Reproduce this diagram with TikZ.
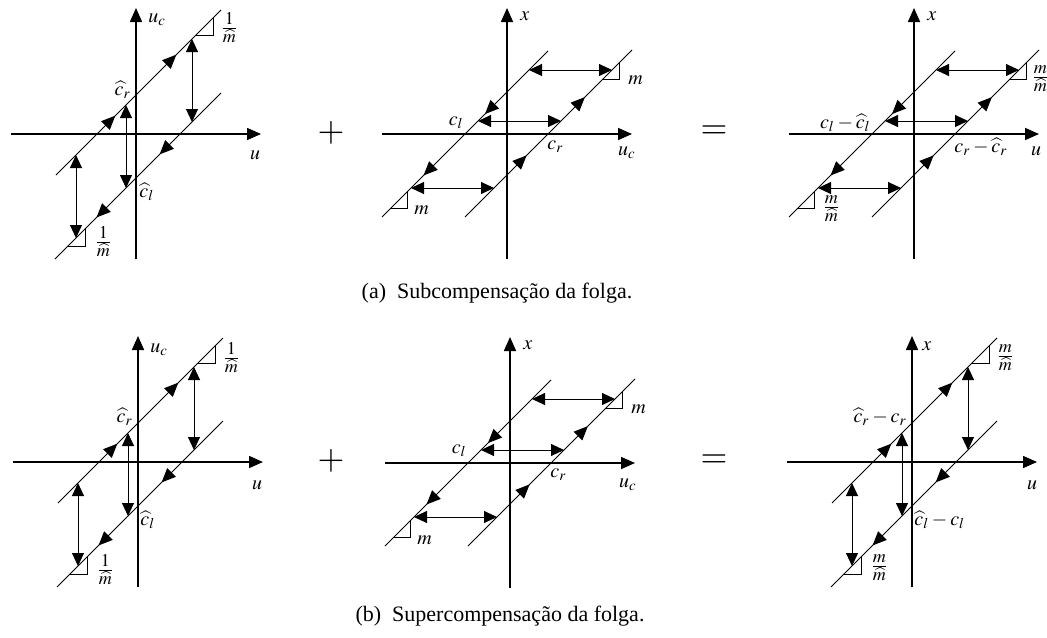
\documentclass[tikz,border=0pt]{standalone}
\usepackage{mathptmx}
\usepackage{fontspec}
\setmainfont{Liberation Serif}
\usetikzlibrary{arrows.meta,decorations.markings}
\tikzset{
  axis/.style={line width=0.8pt,-{Triangle[length=7pt,width=6pt]}},
  branch/.style={line width=0.5pt},
  dbl/.style={line width=0.5pt,{Triangle[length=6.5pt,width=6pt]}-{Triangle[length=6.5pt,width=6pt]}},
  slope/.style={line width=0.45pt},
  mk/.style={postaction={decorate,decoration={markings,mark=at position #1 with {\arrow{Triangle[length=7pt,width=6pt]}}}}},
  lbl/.style={inner sep=0pt,font=\normalsize},
  frc/.style={inner sep=0pt,font=\large},
  op/.style={inner sep=0pt,font=\LARGE},
  captxt/.style={anchor=base,inner sep=0pt,font=\fontsize{11}{13}\selectfont}
}
\newcommand\drawLeftHyst[1]{%
  \coordinate (#1o) at (0,0);
  \coordinate (#1hl) at (-125,0); \coordinate (#1hr) at (125,0);
  \coordinate (#1vb) at (0,125); \coordinate (#1vt) at (0,-126);
  \draw[axis] (#1hl) -- (#1hr);
  \draw[axis] (#1vb) -- (#1vt);
  \coordinate (#1u1) at (-80,41); \coordinate (#1u2) at (85,-124);
  \coordinate (#1l1) at (-81,125); \coordinate (#1l2) at (85,-41);
  \draw[branch,mk=0.36,mk=0.73] (#1u1) -- (#1u2);
  \draw[branch,mk=0.37,mk=0.75] (#1l2) -- (#1l1);
  \coordinate (#1ta) at (56,-95); \coordinate (#1ba) at (56,-12);
  \coordinate (#1tb) at (-10,-29); \coordinate (#1bb) at (-10,54);
  \coordinate (#1tc) at (-60,21); \coordinate (#1bc) at (-60,104);
  \draw[dbl] (#1ta) -- (#1ba);
  \draw[dbl] (#1tb) -- (#1bb);
  \draw[dbl] (#1tc) -- (#1bc);
  \coordinate (#1p1) at (60,-99); \coordinate (#1c1) at (77,-99); \coordinate (#1q1) at (77,-116);
  \draw[slope] (#1p1) -- (#1c1) -- (#1q1);
  \coordinate (#1p2) at (-68,112); \coordinate (#1c2) at (-51,112); \coordinate (#1q2) at (-51,95);
  \draw[slope] (#1p2) -- (#1c2) -- (#1q2);
}
\newcommand\drawRightHyst[1]{%
  \coordinate (#1o) at (0,0);
  \coordinate (#1hl) at (-125,0); \coordinate (#1hr) at (125,0);
  \coordinate (#1vb) at (0,125); \coordinate (#1vt) at (0,-126);
  \draw[axis] (#1hl) -- (#1hr);
  \draw[axis] (#1vb) -- (#1vt);
  \coordinate (#1a1) at (41,-83); \coordinate (#1a2) at (-125,83);
  \coordinate (#1b1) at (-42,83); \coordinate (#1b2) at (125,-84);
  \draw[branch,mk=0.38,mk=0.75] (#1a1) -- (#1a2);
  \draw[branch,mk=0.37,mk=0.72] (#1b1) -- (#1b2);
  \coordinate (#1la) at (22,-64); \coordinate (#1ra) at (105,-64);
  \coordinate (#1lb) at (-29,-13); \coordinate (#1rb) at (54,-13);
  \coordinate (#1lc) at (-96,54); \coordinate (#1rc) at (-13,54);
  \draw[dbl] (#1la) -- (#1ra);
  \draw[dbl] (#1lb) -- (#1rb);
  \draw[dbl] (#1lc) -- (#1rc);
  \coordinate (#1p1) at (96,-55); \coordinate (#1c1) at (112,-55); \coordinate (#1q1) at (112,-71);
  \draw[slope] (#1p1) -- (#1c1) -- (#1q1);
  \coordinate (#1p2) at (-116,74); \coordinate (#1c2) at (-100,74); \coordinate (#1q2) at (-100,58);
  \draw[slope] (#1p2) -- (#1c2) -- (#1q2);
}
\begin{document}
\begin{tikzpicture}[x=0.5pt,y=-0.5pt]
\path[use as bounding box] (0,0) rectangle (1047,637);
% ---------- row (a) ----------
\begin{scope}[shift={(136,134)}]
  \drawLeftHyst{TL}
  \node[lbl,anchor=west] (TLy) at (12,-114) {$u_c$};
  \node[lbl] (TLx) at (119,21) {$u$};
  \node[lbl,anchor=east] (TLcr) at (-5,-44) {$\widehat{c}_r$};
  \node[lbl,anchor=west] (TLcl) at (3,58) {$\widehat{c}_l$};
  \node[frc,anchor=west] (TLs1) at (84,-106) {$\frac{1}{\widehat{m}}$};
  \node[frc,anchor=west] (TLs2) at (-42,108) {$\frac{1}{\widehat{m}}$};
\end{scope}
\node[op] (plusA) at (331,133) {$+$};
\begin{scope}[shift={(507,134)}]
  \drawRightHyst{TM}
  \node[lbl,anchor=west] (TMy) at (13,-118) {$x$};
  \node[lbl] (TMx) at (120,19) {$u_c$};
  \node[lbl,anchor=east] (TMcl) at (-43,-11) {$c_l$};
  \node[lbl,anchor=west] (TMcr) at (40,13) {$c_r$};
  \node[lbl,anchor=west] (TMs1) at (121,-54) {$m$};
  \node[lbl,anchor=west] (TMs2) at (-93,76) {$m$};
\end{scope}
\node[op] (eqA) at (714,132) {$=$};
\begin{scope}[shift={(914,134)}]
  \drawRightHyst{TR}
  \node[lbl,anchor=west] (TRy) at (13,-118) {$x$};
  \node[lbl] (TRx) at (122,17) {$u$};
  \node[lbl,anchor=east] (TRcl) at (-43,-11) {$c_l-\widehat{c}_l$};
  \node[lbl,anchor=west] (TRcr) at (40,13) {$c_r-\widehat{c}_r$};
  \node[frc,anchor=west] (TRs1) at (117,-55) {$\frac{m}{\widehat{m}}$};
  \node[frc,anchor=west] (TRs2) at (-92,75) {$\frac{m}{\widehat{m}}$};
\end{scope}
\node[captxt] (capA) at (497,298) {(a)\ \ Subcompensação da folga.};
% ---------- row (b) ----------
\begin{scope}[shift={(138,462)}]
  \drawLeftHyst{BL}
  \node[lbl,anchor=west] (BLy) at (12,-112) {$u_c$};
  \node[lbl] (BLx) at (119,23) {$u$};
  \node[lbl,anchor=east] (BLcr) at (-5,-45) {$\widehat{c}_r$};
  \node[lbl,anchor=west] (BLcl) at (2,58) {$\widehat{c}_l$};
  \node[frc,anchor=west] (BLs1) at (84,-104) {$\frac{1}{\widehat{m}}$};
  \node[frc,anchor=west] (BLs2) at (-42,108) {$\frac{1}{\widehat{m}}$};
\end{scope}
\node[op] (plusB) at (331,461) {$+$};
\begin{scope}[shift={(510,463)}]
  \drawRightHyst{BM}
  \node[lbl,anchor=west] (BMy) at (13,-118) {$x$};
  \node[lbl] (BMx) at (118,22) {$u_c$};
  \node[lbl,anchor=east] (BMcl) at (-43,-12) {$c_l$};
  \node[lbl,anchor=west] (BMcr) at (40,12) {$c_r$};
  \node[lbl,anchor=west] (BMs1) at (121,-54) {$m$};
  \node[lbl,anchor=west] (BMs2) at (-93,77) {$m$};
\end{scope}
\node[op] (eqB) at (714,461) {$=$};
\begin{scope}[shift={(912,462)}]
  \drawLeftHyst{BR}
  \node[lbl,anchor=west] (BRy) at (10,-116) {$x$};
  \node[lbl] (BRx) at (120,23) {$u$};
  \node[lbl,anchor=east] (BRcr) at (-5,-45) {$\widehat{c}_r-c_r$};
  \node[lbl,anchor=west] (BRcl) at (2,58) {$\widehat{c}_l-c_l$};
  \node[frc,anchor=west] (BRs1) at (84,-104) {$\frac{m}{\widehat{m}}$};
  \node[frc,anchor=west] (BRs2) at (-42,106) {$\frac{m}{\widehat{m}}$};
\end{scope}
\node[captxt] (capB) at (500,621) {(b)\ \ Supercompensação da folga.};
\end{tikzpicture}
\end{document}
